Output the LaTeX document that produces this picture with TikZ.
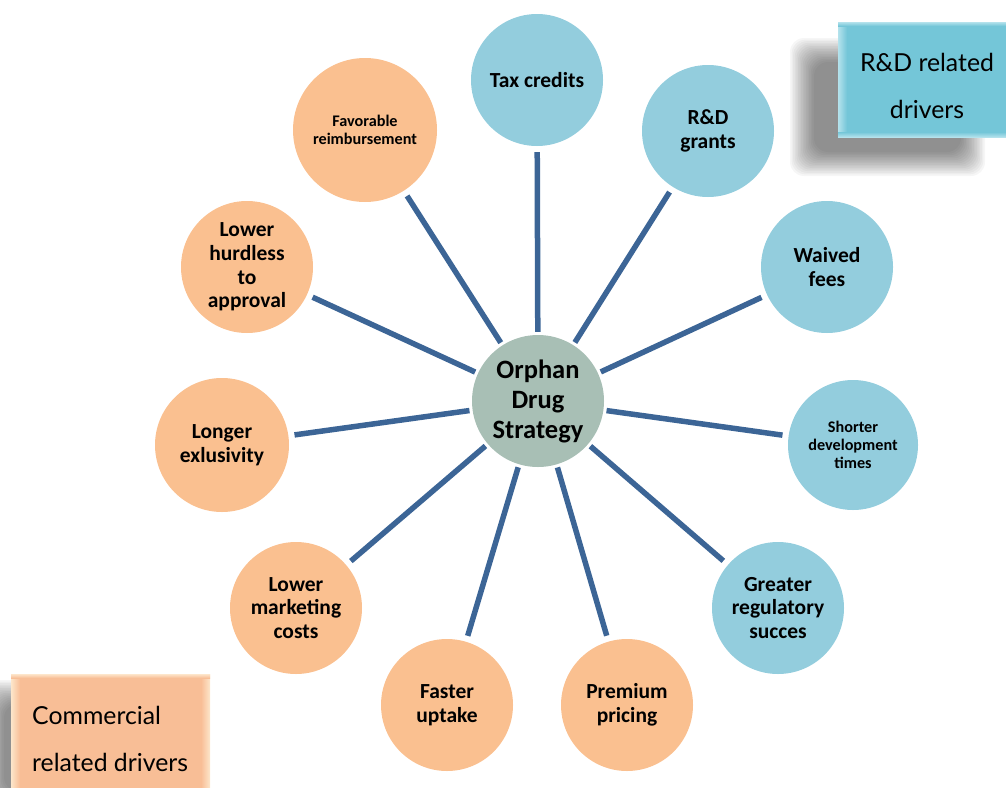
\documentclass[tikz,border=0pt]{standalone}
\usepackage{fontspec}
\setmainfont{Carlito}
\newfontfamily\legendfont{Lato}
\definecolor{rdblue}{HTML}{93CDDD}
\definecolor{cmorange}{HTML}{FAC090}
\definecolor{hubgrey}{HTML}{A8BFB5}
\definecolor{linkblue}{HTML}{3C6596}
\definecolor{rdkeyblue}{HTML}{74C6D8}
\definecolor{rdkeylight}{HTML}{B4E2EC}
\definecolor{cmkeyorange}{HTML}{F8BE96}
\definecolor{cmkeylight}{HTML}{FDE6CB}
\tikzset{
  leaf/.style={circle, minimum size=132pt, inner sep=0pt, align=center,
    font=\bfseries\fontsize{21.5}{23.8}\selectfont},
  small/.style={font=\bfseries\fontsize{16.2}{17.8}\selectfont},
  rdleaf/.style={leaf, fill=rdblue},
  cmleaf/.style={leaf, fill=cmorange},
  hub/.style={circle, minimum size=132pt, inner sep=0pt, align=center, fill=hubgrey,
    font=\bfseries\fontsize{26.5}{30}\selectfont},
  link/.style={draw=linkblue, line width=5.5pt, shorten <=3pt, shorten >=6pt},
  keytext/.style={inner sep=0pt, font=\legendfont\fontsize{24.8}{28}\selectfont},
}
\begin{document}
\begin{tikzpicture}[x=1pt,y=-1pt]
\useasboundingbox (0,0) rectangle (1006,787);
\begin{scope}
\clip (0,0) rectangle (1006,787);
% soft shadow behind the R&D key
\foreach \i in {0,...,15}
  \fill[black, opacity=0.035, rounded corners=14pt]
    (790+1.6*\i,38+1.6*\i) rectangle (985-1.6*\i,176-1.6*\i);
% R&D key box with bevelled edges
\node[fill=rdkeyblue, minimum width=178pt, minimum height=115pt, inner sep=0pt,
      anchor=north west] (rdbox) at (838,22) {};
\shade[left color=rdkeylight, right color=rdkeyblue] (838,22) rectangle (847,137);
\shade[top color=rdkeylight, bottom color=rdkeyblue] (838,22) rectangle (1016,26);
\shade[top color=rdkeyblue, bottom color=rdkeylight] (838,132) rectangle (1016,137);
\node[keytext, anchor=base] (rdkeya) at (927,71) {R\&D related};
\node[keytext, anchor=base] (rdkeyb) at (927,118) {drivers};
% soft shadow beside the commercial key
\foreach \i in {0,...,15}
  \fill[black, opacity=0.035, rounded corners=14pt]
    (-20+1.6*\i,680+1.6*\i) rectangle (200-1.6*\i,815-1.6*\i);
% commercial key box with bevelled edges
\node[fill=cmkeyorange, minimum width=199pt, minimum height=125pt, inner sep=0pt,
      anchor=north west] (cmbox) at (11,674) {};
\shade[left color=cmkeylight, right color=cmkeyorange] (11,674) rectangle (20,799);
\shade[left color=cmkeyorange, right color=cmkeylight] (201,674) rectangle (210,799);
\shade[top color=cmkeylight, bottom color=cmkeyorange] (11,674) rectangle (210,678);
\node[keytext, anchor=base west] (cmkeya) at (32,724) {Commercial};
\node[keytext, anchor=base west] (cmkeyb) at (32,771) {related drivers};
\end{scope}
% hub
\node[hub] (hub) at (538,401) {Orphan\\Drug\\Strategy};
% R&D related drivers
\node[rdleaf] (tax) at (537,80) {Tax credits};
\node[rdleaf] (grants) at (708,131) {R\&D\\grants};
\node[rdleaf] (waived) at (827,267) {Waived\\fees};
\node[rdleaf, small, minimum size=130pt] (shorter) at (853,445) {Shorter\\development\\times};
\node[rdleaf] (greater) at (778,608) {Greater\\regulatory\\succes};
% commercial related drivers
\node[cmleaf] (premium) at (627,705) {Premium\\pricing};
\node[cmleaf] (faster) at (447,705) {Faster\\uptake};
\node[cmleaf] (marketing) at (296,608) {Lower\\marketing\\costs};
\node[cmleaf, minimum size=134pt] (longer) at (222,445) {Longer\\exlusivity};
\node[cmleaf] (hurdle) at (247,267) {Lower\\hurdless\\to\\approval};
\node[cmleaf, small, minimum size=144pt] (reimb) at (365,130) {Favorable\\reimbursement};
% spokes
\foreach \t in {tax,grants,waived,shorter,greater,premium,faster,marketing,longer,hurdle,reimb}
  \draw[link] (hub) -- (\t);
\end{tikzpicture}
\end{document}
